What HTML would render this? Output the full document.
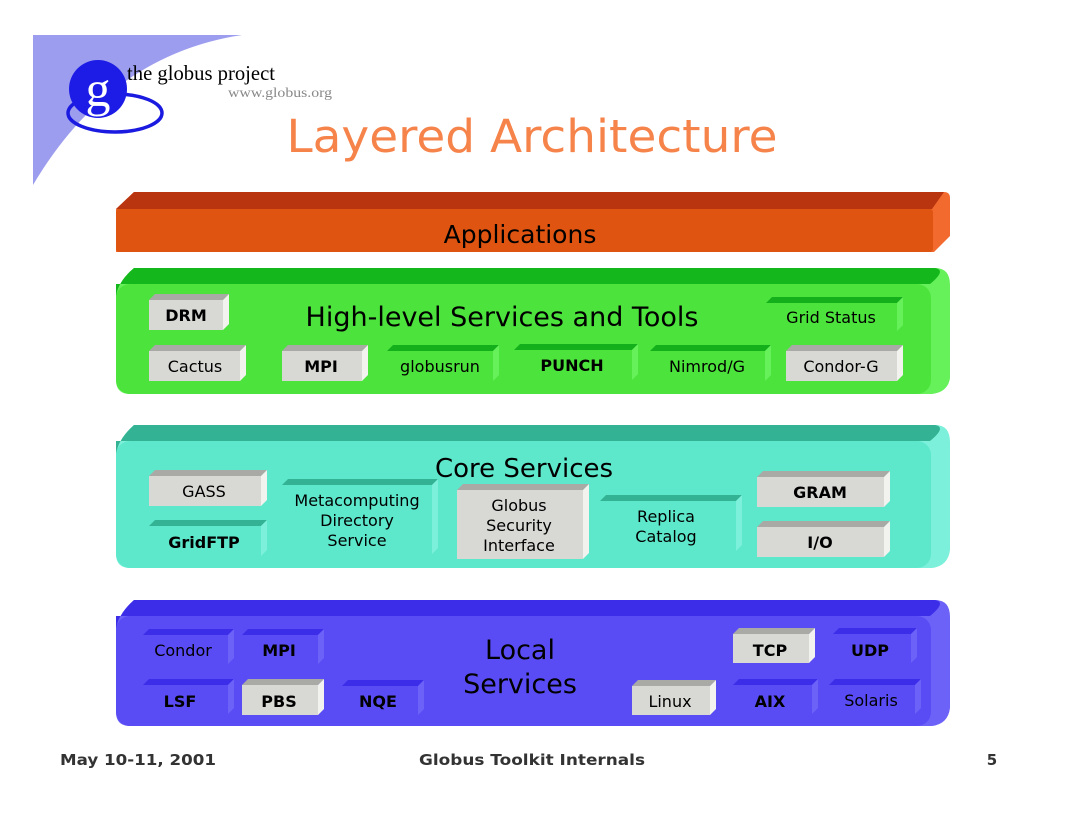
<!DOCTYPE html>
<html><head><meta charset="utf-8"><style>
html,body{margin:0;padding:0;background:#fff;}
svg{display:block;}
text{font-family:"DejaVu Sans","Liberation Sans",sans-serif;}
</style></head><body>
<svg width="1066" height="820" viewBox="0 0 1066 820" xmlns="http://www.w3.org/2000/svg">
<!-- logo -->
<path d="M33,35 L242,35 Q110,55 33,185 Z" fill="#9d9df0"/>
<ellipse cx="115" cy="113" rx="47" ry="19" fill="none" stroke="#1a1ae0" stroke-width="3.5"/>
<circle cx="98" cy="89" r="29" fill="#1c1ce6"/>
<text x="98" y="106" font-size="50" fill="#fff" text-anchor="middle" style="font-family:'Liberation Serif',serif">g</text>
<text x="127" y="80" font-size="21" fill="#000" textLength="148" lengthAdjust="spacingAndGlyphs" style="font-family:'Liberation Serif',serif">the globus project</text>
<text x="228" y="97" font-size="14" fill="#888" textLength="104" lengthAdjust="spacingAndGlyphs" style="font-family:'Liberation Serif',serif">www.globus.org</text>
<text x="532" y="152" font-size="45" fill="#f5834a" text-anchor="middle" textLength="491" lengthAdjust="spacingAndGlyphs">Layered Architecture</text>

<!-- Applications band -->
<path d="M116,209 L134,192 L944,192 Q950,192 950,198 L950,236 L934,252 L116,252 Z" fill="#f26a2e"/>
<path d="M116,209 L134,192 L944,192 L932,209 Z" fill="#b93510"/>
<rect x="116" y="209" width="817" height="43" rx="3" fill="#df5410"/>
<text x="520" y="243" font-size="25" text-anchor="middle" fill="#000">Applications</text>

<!-- Green band -->
<path d="M116,300 Q116,283 134,268 L935,268 Q950,268 950,285 L950,378 Q948,392 932,394 L130,394 Q116,394 116,380 Z" fill="#66f05a"/>
<path d="M116,300 Q116,283 134,268 L935,268 Q947,270 930,284 L116,284 Z" fill="#14b81c"/>
<rect x="116" y="284" width="815" height="110" rx="14" fill="#4ce43c"/>
<text x="502" y="326" font-size="27" text-anchor="middle" fill="#000">High-level Services and Tools</text>

<!-- Core band -->
<path d="M116,458 Q116,441 134,425 L935,425 Q950,425 950,442 L950,550 Q948,566 932,568 L130,568 Q116,568 116,554 Z" fill="#7cf0da"/>
<path d="M116,458 Q116,441 134,425 L935,425 Q947,427 930,441 L116,441 Z" fill="#33b393"/>
<rect x="116" y="441" width="815" height="127" rx="14" fill="#5de8cc"/>
<text x="524" y="477" font-size="26" text-anchor="middle" fill="#000">Core Services</text>

<!-- Local band -->
<path d="M116,633 Q116,616 134,600 L935,600 Q950,600 950,617 L950,708 Q948,724 932,726 L130,726 Q116,726 116,712 Z" fill="#6c62f8"/>
<path d="M116,633 Q116,616 134,600 L935,600 Q947,602 930,616 L116,616 Z" fill="#3c2ee8"/>
<rect x="116" y="616" width="815" height="110" rx="14" fill="#5a4cf5"/>
<text x="520" y="659" font-size="27" text-anchor="middle" fill="#000">Local</text>
<text x="520" y="693" font-size="27" text-anchor="middle" fill="#000">Services</text>

<g id="boxes" font-size="16" text-anchor="middle" fill="#000">
<polygon points="149,300 155,294 229,294 223,300" fill="#a9a9a5"/><polygon points="223,300 229,294 229,324 223,330" fill="#f2f2ee"/><rect x="149" y="300" width="74" height="30" fill="#d8d8d4"/><text x="186" y="321" font-weight="bold">DRM</text>
<polygon points="766,303 772,297 903,297 897,303" fill="#14b01c"/><polygon points="897,303 903,297 903,325 897,331" fill="#66f05a"/><rect x="766" y="303" width="131" height="28" fill="#4ce43c"/><text x="831" y="323">Grid Status</text>
<polygon points="149,351 155,345 246,345 240,351" fill="#a9a9a5"/><polygon points="240,351 246,345 246,375 240,381" fill="#f2f2ee"/><rect x="149" y="351" width="91" height="30" fill="#d8d8d4"/><text x="195" y="372">Cactus</text>
<polygon points="282,351 288,345 368,345 362,351" fill="#a9a9a5"/><polygon points="362,351 368,345 368,375 362,381" fill="#f2f2ee"/><rect x="282" y="351" width="80" height="30" fill="#d8d8d4"/><text x="321" y="372" font-weight="bold">MPI</text>
<polygon points="387,351 393,345 499,345 493,351" fill="#14b01c"/><polygon points="493,351 499,345 499,375 493,381" fill="#66f05a"/><rect x="387" y="351" width="106" height="30" fill="#4ce43c"/><text x="440" y="372">globusrun</text>
<polygon points="514,350 520,344 638,344 632,350" fill="#14b01c"/><polygon points="632,350 638,344 638,374 632,380" fill="#66f05a"/><rect x="514" y="350" width="118" height="30" fill="#4ce43c"/><text x="572" y="371" font-weight="bold">PUNCH</text>
<polygon points="650,351 656,345 771,345 765,351" fill="#14b01c"/><polygon points="765,351 771,345 771,375 765,381" fill="#66f05a"/><rect x="650" y="351" width="115" height="30" fill="#4ce43c"/><text x="707" y="372">Nimrod/G</text>
<polygon points="786,351 792,345 903,345 897,351" fill="#a9a9a5"/><polygon points="897,351 903,345 903,375 897,381" fill="#f2f2ee"/><rect x="786" y="351" width="111" height="30" fill="#d8d8d4"/><text x="841" y="372">Condor-G</text>

<polygon points="149,476 155,470 267,470 261,476" fill="#a9a9a5"/><polygon points="261,476 267,470 267,500 261,506" fill="#f2f2ee"/><rect x="149" y="476" width="112" height="30" fill="#d8d8d4"/><text x="204" y="497">GASS</text>
<polygon points="149,526 155,520 267,520 261,526" fill="#33b393"/><polygon points="261,526 267,520 267,550 261,556" fill="#7cf0da"/><rect x="149" y="526" width="112" height="30" fill="#5de8cc"/><text x="204" y="548" font-weight="bold">GridFTP</text>
<polygon points="282,485 288,479 438,479 432,485" fill="#33b393"/><polygon points="432,485 438,479 438,548 432,554" fill="#7cf0da"/><rect x="282" y="485" width="150" height="69" fill="#5de8cc"/><text x="357" y="506">Metacomputing</text><text x="357" y="526">Directory</text><text x="357" y="546">Service</text>
<polygon points="457,490 463,484 589,484 583,490" fill="#a9a9a5"/><polygon points="583,490 589,484 589,553 583,559" fill="#f2f2ee"/><rect x="457" y="490" width="126" height="69" fill="#d8d8d4"/><text x="519" y="511">Globus</text><text x="519" y="531">Security</text><text x="519" y="551">Interface</text>
<polygon points="600,501 606,495 742,495 736,501" fill="#33b393"/><polygon points="736,501 742,495 742,545 736,551" fill="#7cf0da"/><rect x="600" y="501" width="136" height="50" fill="#5de8cc"/><text x="666" y="522">Replica</text><text x="666" y="542">Catalog</text>
<polygon points="757,477 763,471 890,471 884,477" fill="#a9a9a5"/><polygon points="884,477 890,471 890,501 884,507" fill="#f2f2ee"/><rect x="757" y="477" width="127" height="30" fill="#d8d8d4"/><text x="820" y="498" font-weight="bold">GRAM</text>
<polygon points="757,527 763,521 890,521 884,527" fill="#a9a9a5"/><polygon points="884,527 890,521 890,551 884,557" fill="#f2f2ee"/><rect x="757" y="527" width="127" height="30" fill="#d8d8d4"/><text x="820" y="548" font-weight="bold">I/O</text>

<polygon points="143,635 149,629 234,629 228,635" fill="#3c2ee8"/><polygon points="228,635 234,629 234,658 228,664" fill="#6c62f8"/><rect x="143" y="635" width="85" height="29" fill="#5a4cf5"/><text x="183" y="656">Condor</text>
<polygon points="242,635 248,629 324,629 318,635" fill="#3c2ee8"/><polygon points="318,635 324,629 324,658 318,664" fill="#6c62f8"/><rect x="242" y="635" width="76" height="29" fill="#5a4cf5"/><text x="279" y="656" font-weight="bold">MPI</text>
<polygon points="733,634 739,628 815,628 809,634" fill="#a9a9a5"/><polygon points="809,634 815,628 815,657 809,663" fill="#f2f2ee"/><rect x="733" y="634" width="76" height="29" fill="#d8d8d4"/><text x="770" y="656" font-weight="bold">TCP</text>
<polygon points="833,634 839,628 917,628 911,634" fill="#3c2ee8"/><polygon points="911,634 917,628 917,657 911,663" fill="#6c62f8"/><rect x="833" y="634" width="78" height="29" fill="#5a4cf5"/><text x="870" y="656" font-weight="bold">UDP</text>
<polygon points="143,685 149,679 234,679 228,685" fill="#3c2ee8"/><polygon points="228,685 234,679 234,708 228,714" fill="#6c62f8"/><rect x="143" y="685" width="85" height="29" fill="#5a4cf5"/><text x="180" y="707" font-weight="bold">LSF</text>
<polygon points="242,685 248,679 324,679 318,685" fill="#a9a9a5"/><polygon points="318,685 324,679 324,709 318,715" fill="#f2f2ee"/><rect x="242" y="685" width="76" height="30" fill="#d8d8d4"/><text x="279" y="707" font-weight="bold">PBS</text>
<polygon points="342,686 348,680 424,680 418,686" fill="#3c2ee8"/><polygon points="418,686 424,680 424,709 418,715" fill="#6c62f8"/><rect x="342" y="686" width="76" height="29" fill="#5a4cf5"/><text x="378" y="707" font-weight="bold">NQE</text>
<polygon points="632,686 638,680 716,680 710,686" fill="#a9a9a5"/><polygon points="710,686 716,680 716,709 710,715" fill="#f2f2ee"/><rect x="632" y="686" width="78" height="29" fill="#d8d8d4"/><text x="670" y="707">Linux</text>
<polygon points="733,685 739,679 818,679 812,685" fill="#3c2ee8"/><polygon points="812,685 818,679 818,708 812,714" fill="#6c62f8"/><rect x="733" y="685" width="79" height="29" fill="#5a4cf5"/><text x="770" y="707" font-weight="bold">AIX</text>
<polygon points="829,685 835,679 921,679 915,685" fill="#3c2ee8"/><polygon points="915,685 921,679 921,708 915,714" fill="#6c62f8"/><rect x="829" y="685" width="86" height="29" fill="#5a4cf5"/><text x="871" y="706">Solaris</text>
</g>

<g font-size="15" font-weight="bold" fill="#333">
<text x="60" y="765" textLength="156" lengthAdjust="spacingAndGlyphs">May 10-11, 2001</text>
<text x="532" y="765" text-anchor="middle" textLength="226" lengthAdjust="spacingAndGlyphs">Globus Toolkit Internals</text>
<text x="992" y="765" text-anchor="middle">5</text>
</g>
</svg>
</body></html>
